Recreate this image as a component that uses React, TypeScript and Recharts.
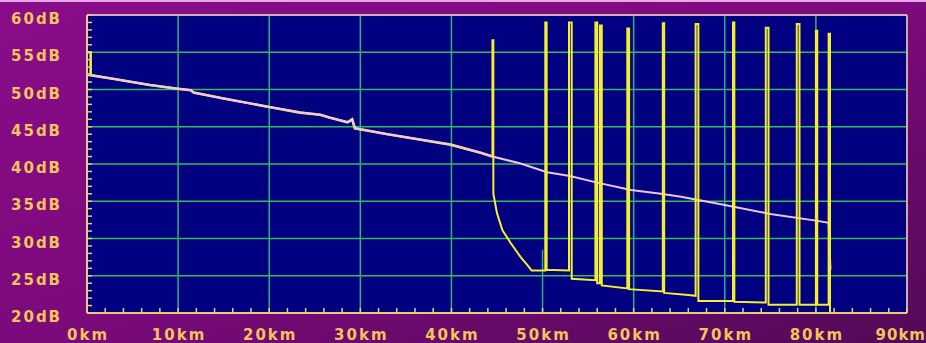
import { LineChart, Line, XAxis, YAxis, CartesianGrid, ReferenceLine } from 'recharts';

// distance axis (km) and level axis (dB)
const kmTicks = [0, 2, 4, 6, 8, 10, 12, 14, 16, 18, 20, 22, 24, 26, 28, 30, 32, 34, 36, 38, 40, 42, 44, 46, 48, 50, 52, 54, 56, 58, 60, 62, 64, 66, 68, 70, 72, 74, 76, 78, 80, 82, 84, 86, 88, 90];
const dbTicks = [20, 21, 22, 23, 24, 25, 26, 27, 28, 29, 30, 31, 32, 33, 34, 35, 36, 37, 38, 39, 40, 41, 42, 43, 44, 45, 46, 47, 48, 49, 50, 51, 52, 53, 54, 55, 56, 57, 58, 59, 60];
const gridKm = [10, 20, 30, 40, 60, 70, 80];
const gridDb = [25, 30, 35, 40, 45, 50, 55];

// reference trace (pink)
const pinkKm = [0, 3, 6.9, 10, 11.4, 11.7, 15, 20, 23.4, 25.6, 26.7, 28.6, 29.1, 29.4, 33, 36, 39.9, 43.2, 44.5, 47.5, 50.5, 53, 56, 59.7, 63, 65.2, 70, 75, 80, 81.4, 81.6];
const pinkDb = [52, 51.4, 50.6, 50.1, 49.9, 49.6, 48.8, 47.65, 46.9, 46.6, 46.2, 45.6, 46.0, 44.8, 44.0, 43.4, 42.6, 41.5, 41.0, 40.1, 38.9, 38.4, 37.5, 36.5, 36.0, 35.6, 34.5, 33.3, 32.4, 32.1, 25.8];

// measured trace (yellow): launch spike, then follows the reference up to the break
const launchKm = [0, 0.4, 0.4];
const launchDb = [55, 55, 52];
const breakKm = 44.5;
const tailKm = [44.5, 44.6, 44.6, 45.0, 45.6, 46.5, 47.6, 48.5, 48.8, 50.3, 50.3, 50.45, 50.45, 52.9, 52.9, 53.2, 53.2, 55.8, 55.8, 56.0, 56.0, 56.3, 56.3, 56.5, 56.5, 59.3, 59.3, 59.5, 59.5, 63.2, 63.2, 63.35, 63.35, 66.0, 66.8, 66.8, 67.1, 67.1, 70.9, 70.9, 71.05, 71.05, 74.5, 74.5, 74.8, 74.8, 77.9, 77.9, 78.2, 78.2, 80.0, 80.0, 80.15, 80.15, 81.4, 81.4, 81.55, 81.55];
const tailDb = [56.6, 56.6, 36.0, 33.4, 31.1, 29.4, 27.5, 26.2, 25.7, 25.7, 59.0, 59.0, 25.8, 25.7, 59.0, 59.0, 24.6, 24.4, 59.0, 59.0, 24.0, 24.0, 58.6, 58.6, 23.7, 23.3, 58.2, 58.2, 23.2, 22.9, 58.9, 58.9, 22.7, 22.4, 22.3, 58.8, 58.8, 21.6, 21.6, 59.0, 59.0, 21.5, 21.4, 58.3, 58.3, 21.1, 21.1, 58.8, 58.8, 21.1, 21.1, 57.9, 57.9, 21.1, 21.1, 57.5, 57.5, 19.7];

const toPoints = (km: number[], db: number[]) => km.map((k, i) => ({ km: k, db: db[i] }));

const pinkData = toPoints(pinkKm, pinkDb);
const yellowHead = [...toPoints(launchKm, launchDb), ...pinkData.filter((p) => p.km <= breakKm)];
const yellowTail = [{ km: breakKm, db: pinkDb[pinkKm.indexOf(breakKm)] }, ...toPoints(tailKm, tailDb)];

const labelFont = {
  fontFamily: '"DejaVu Sans", sans-serif',
  fontWeight: 'bold' as const,
  fontSize: 15,
  letterSpacing: 2,
  fill: '#f2c45a',
};

function KmTick({ x, y, payload }: any) {
  const v = payload.value;
  const major = v % 10 === 0;
  const last = v === 90;
  return (
    <g>
      <line x1={x} x2={x} y1={y} y2={y - 5} stroke="#e6cc86" strokeWidth={1.5} />
      {major && (
        <text x={last ? 926 : x + 1} y={y + 27} textAnchor={last ? 'end' : 'middle'} {...labelFont} letterSpacing={last ? 1 : 2}>
          {v}km
        </text>
      )}
    </g>
  );
}

function DbTick({ x, y, payload }: any) {
  const v = payload.value;
  const major = v % 5 === 0;
  return (
    <g>
      <line x1={x} x2={x + 5} y1={y} y2={y} stroke="#e6cc86" strokeWidth={1.5} />
      {major && (
        <text x={x - 76} y={y + 9} textAnchor="start" {...labelFont}>
          {v}dB
        </text>
      )}
    </g>
  );
}

export default function App() {
  return (
    <div
      style={{
        position: 'fixed',
        left: 0,
        top: 0,
        width: 926,
        height: 343,
        overflow: 'hidden',
        background: 'linear-gradient(160deg, #8a0c8a 0%, #7c0a7c 50%, #520a56 100%)',
        borderTop: '2px solid #e8a8e8',
        boxSizing: 'border-box',
      }}
    >
      <LineChart width={926} height={341} margin={{ top: 13, right: 19, left: 0, bottom: 0 }}>
        <CartesianGrid
          fill="#000080"
          stroke="#2fbc5c"
          strokeWidth={1.5}
          vertical={false}
          horizontalValues={gridDb}
        />
        <CartesianGrid stroke="#2bb27e" strokeWidth={1.5} horizontal={false} verticalValues={gridKm} />
        <XAxis
          type="number"
          dataKey="km"
          domain={[0, 90]}
          ticks={kmTicks}
          interval={0}
          tick={<KmTick />}
          tickLine={false}
          tickSize={0}
          tickMargin={0}
          height={30}
          axisLine={{ stroke: '#e6cc78', strokeWidth: 2 }}
        />
        <YAxis
          type="number"
          dataKey="db"
          domain={[20, 60]}
          allowDataOverflow
          ticks={dbTicks}
          interval={0}
          tick={<DbTick />}
          tickLine={false}
          tickSize={0}
          tickMargin={0}
          width={87}
          axisLine={{ stroke: '#e6cc86', strokeWidth: 2 }}
        />
        <ReferenceLine segment={[{ x: 50, y: 20 }, { x: 50, y: 28.5 }]} stroke="#2bb27e" strokeWidth={1.5} />
        <ReferenceLine x={90} stroke="#c8b0a8" strokeWidth={2} />
        <ReferenceLine y={60} stroke="#d0b0b8" strokeWidth={2} />
        <Line
          data={yellowHead}
          dataKey="db"
          type="linear"
          stroke="#f4ee30"
          strokeWidth={2.6}
          dot={false}
          isAnimationActive={false}
        />
        <Line
          data={pinkData}
          dataKey="db"
          type="linear"
          stroke="#f0c4ec"
          strokeWidth={2}
          dot={false}
          isAnimationActive={false}
        />
        <Line
          data={yellowTail}
          dataKey="db"
          type="linear"
          stroke="#f4ee30"
          strokeWidth={2}
          dot={false}
          isAnimationActive={false}
        />
      </LineChart>
    </div>
  );
}
